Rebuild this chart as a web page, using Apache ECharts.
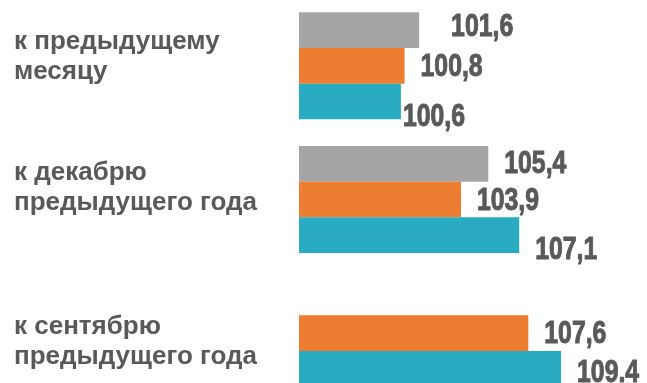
<!DOCTYPE html>
<html>
<head>
<meta charset="utf-8">
<script src="https://cdn.jsdelivr.net/npm/echarts@6/dist/echarts.min.js"></script>
<style>
  html, body { margin: 0; padding: 0; background: #fff; }
  #chart { width: 647px; height: 383px; }
</style>
</head>
<body>
<div id="chart"></div>
<script>
// Price indices, % (comparison bases)
const categories = ['к предыдущему\nмесяцу', 'к декабрю\nпредыдущего года', 'к сентябрю\nпредыдущего года'];
const greyValues   = [101.6, 105.4, null];
const orangeValues = [100.8, 103.9, 107.6];
const tealValues   = [100.6, 107.1, 109.4];

// Styling
const colors = ['#A5A5A5', '#ED7D31', '#29ACC2'];
const labelColor = '#595959';
const valueFont = 'bold 31px "Liberation Sans", Arial, sans-serif';
const catFont = '"Liberation Sans", Arial, sans-serif';
const barCategoryGap = 0.2;

// vertical nudge of each axis label block: empty spacer line height (above / below)
const catSpacer = [[0, 18], [0, 24], [18, 0]];
// per-bar nudges of the value labels [series][category]
const labelOffsets = [
  [[16, -3], [0, 1], [0, 0]],
  [[0, 2], [0, 2], [0, 1]],
  [[-14, 16], [0, 15], [0, 5]]
];

const seriesValues = [greyValues, orangeValues, tealValues];

// value-label points: [value, category index, series index]
const labelPoints = [];
seriesValues.forEach(function (vals, si) {
  vals.forEach(function (v, ci) {
    if (v !== null) labelPoints.push([v, ci, si]);
  });
});

function fmt(v, sep) {
  return v.toFixed(1).replace('.', sep);
}

const rich = { t: { color: labelColor, fontFamily: catFont, fontWeight: 'bold', fontSize: 26, lineHeight: 30 } };
catSpacer.forEach(function (s, i) {
  rich['a' + i] = { fontSize: 4, lineHeight: s[0] };
  rich['b' + i] = { fontSize: 4, lineHeight: s[1] };
});

function catLabel(value, idx) {
  const lines = value.split('\n').map(function (l) { return '{t|' + l + '}'; });
  const s = catSpacer[idx];
  if (s[0]) lines.unshift('{a' + idx + '|\u00a0}');
  if (s[1]) lines.push('{b' + idx + '|\u00a0}');
  return lines.join('\n');
}

const chart = echarts.init(document.getElementById('chart'), null, { renderer: 'canvas' });

const barSeries = seriesValues.map(function (vals, si) {
  return {
    type: 'bar',
    data: vals,
    barGap: '0%',
    barCategoryGap: (barCategoryGap * 100) + '%',
    itemStyle: { color: colors[si] },
    silent: true
  };
});

// condensed numeric labels placed at the end of each bar
const labelSeries = {
  type: 'custom',
  data: labelPoints,
  encode: { x: 0, y: 1 },
  silent: true,
  z: 5,
  renderItem: function (params, api) {
    const v = api.value(0), ci = api.value(1), si = api.value(2);
    const end = api.coord([v, ci]);
    const band = api.size([0, 1])[1];
    const barW = band * (1 - barCategoryGap) / seriesValues.length;
    const top = end[1] - band * (1 - barCategoryGap) / 2 + si * barW;
    const off = labelOffsets[si][ci];
    const sep = (si === 2 && ci === 2) ? '.' : ',';
    return {
      type: 'text',
      x: end[0] + 16 + off[0],
      y: top + barW / 2 + off[1],
      scaleX: 0.8,
      style: {
        text: fmt(v, sep),
        font: valueFont,
        fill: labelColor,
        stroke: labelColor,
        lineWidth: 1,
        align: 'left',
        verticalAlign: 'middle'
      }
    };
  }
};

chart.setOption({
  animation: false,
  backgroundColor: '#ffffff',
  grid: { left: 299, top: -1, width: 273, height: 401, containLabel: false, outerBoundsMode: 'none' },
  xAxis: {
    type: 'value', min: 95, max: 110,
    show: false
  },
  yAxis: {
    type: 'category',
    inverse: true,
    data: categories,
    axisLine: { show: false },
    axisTick: { show: false },
    splitLine: { show: false },
    axisLabel: {
      align: 'left',
      margin: 285,
      formatter: catLabel,
      rich: rich
    }
  },
  series: barSeries.concat([labelSeries])
});
</script>
</body>
</html>
